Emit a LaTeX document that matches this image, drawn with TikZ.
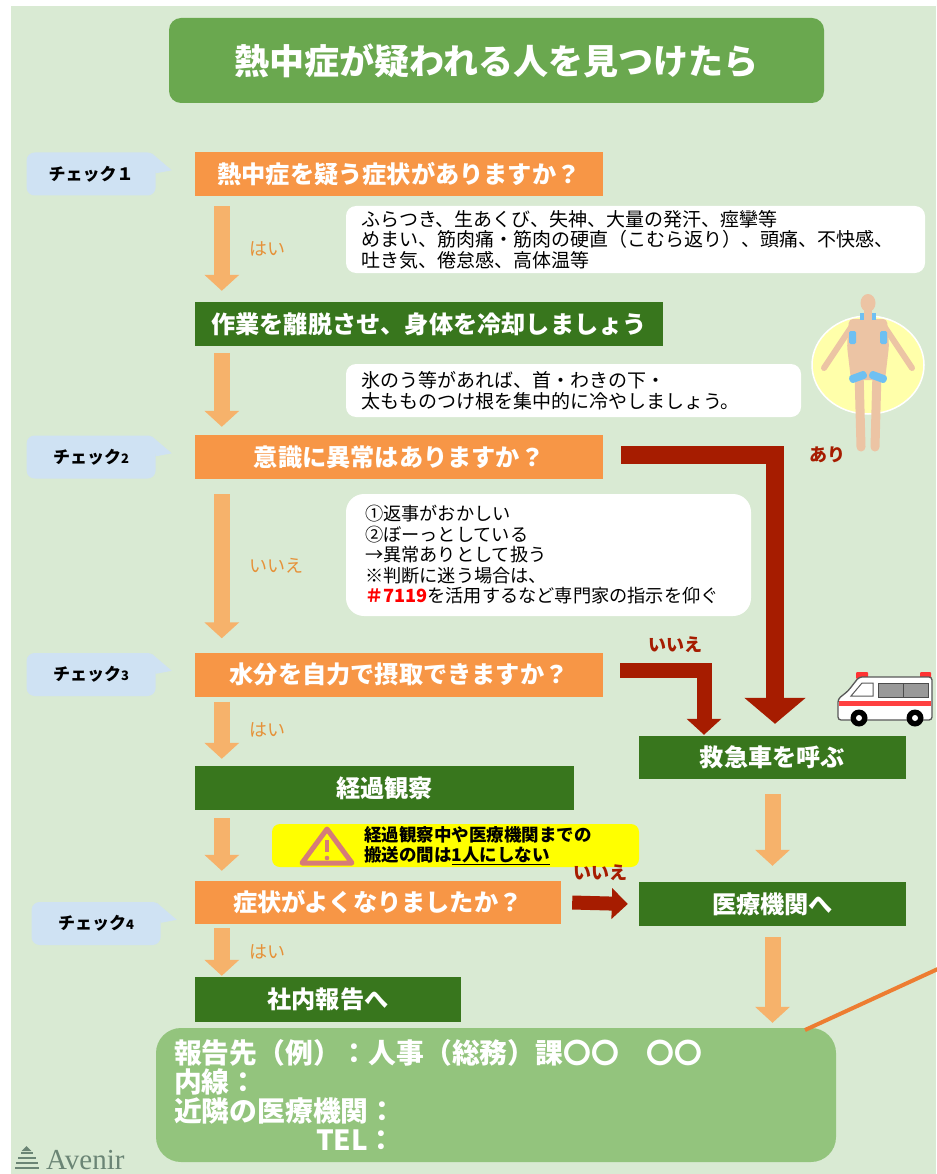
\documentclass[tikz,border=0pt]{standalone}
\usepackage{fontspec}
\setmainfont{Noto Sans CJK JP}
\newfontfamily\logofont{Liberation Serif}
\usetikzlibrary{positioning}
\usetikzlibrary{arrows.meta}
\definecolor{bggreen}{HTML}{D9EAD3}
\definecolor{titlegreen}{HTML}{6AA84F}
\definecolor{qorange}{HTML}{F79646}
\definecolor{actgreen}{HTML}{38761D}
\definecolor{flowarrow}{HTML}{F6B26B}
\definecolor{labelorange}{HTML}{E69138}
\definecolor{darkred}{HTML}{A61C00}
\definecolor{checkblue}{HTML}{CFE2F3}
\definecolor{contactgreen}{HTML}{93C47D}
\definecolor{warnyellow}{HTML}{FFFF00}
\definecolor{warnred}{HTML}{D67C78}
\definecolor{alertred}{HTML}{FF0000}
\definecolor{glowyellow}{HTML}{FFFFAA}
\definecolor{skin}{HTML}{ECC4A4}
\definecolor{icepack}{HTML}{6EC0F2}
\definecolor{accentorange}{HTML}{ED7D31}
\definecolor{logogray}{HTML}{6B8575}

\tikzset{
  box/.style={inner sep=0pt, minimum height=44pt, text=white,
    font=\bfseries\fontsize{24.2}{27}\selectfont},
  qbox/.style={box, fill=qorange},
  actbox/.style={box, fill=actgreen},
  titlebox/.style={fill=titlegreen, rounded corners=12pt, minimum width=655pt,
    minimum height=85pt, text=white, font=\bfseries\fontsize{35}{39}\selectfont},
  checkbox/.style={fill=checkblue, rounded corners=8pt, inner sep=0pt,
    minimum width=129pt, minimum height=43pt,
    font=\bfseries\fontsize{17}{20}\selectfont},
  notebox/.style={fill=white, rounded corners=10pt, inner xsep=15pt, inner ysep=0pt,
    align=left, font=\fontsize{19}{20.5}\selectfont},
  flow/.style={draw=flowarrow, line width=16pt, -{Triangle[width=34pt,length=16pt]}},
  nogo/.style={draw=darkred, line join=miter, line width=18pt,
    -{Triangle[width=60pt,length=26pt]}},
  yeslabel/.style={text=labelorange, inner sep=0pt, font=\fontsize{18}{20}\selectfont},
  nolabel/.style={text=darkred, inner sep=0pt, font=\bfseries\fontsize{18}{20}\selectfont}
}
\newcommand{\smalldigit}[1]{{\fontsize{13}{14}\selectfont #1}}

\begin{document}
\begin{tikzpicture}[x=1pt,y=-1pt]
  \useasboundingbox (0,0) rectangle (936,1174);
  % Background
  \fill[white] (0,0) rectangle (936,1174);
  \fill[bggreen] (11,6) rectangle (936,1174);

  % Title
  \node[titlebox] (title) at (496.5,60.5) {熱中症が疑われる人を見つけたら};

  % Questions and actions
  \node[qbox, minimum width=408pt] (q1) at (399,174) {熱中症を疑う症状がありますか？};
  \node[actbox, minimum width=468pt] (work) at (429,324) {作業を離脱させ、身体を冷却しましょう};
  \node[qbox, minimum width=408pt] (q2) at (399,457) {意識に異常はありますか？};
  \node[qbox, minimum width=408pt] (q3) at (399,674.5) {水分を自力で摂取できますか？};
  \node[actbox, minimum width=267pt, minimum height=43pt] (call) at (772.5,757.5) {救急車を呼ぶ};
  \node[actbox, minimum width=379pt] (obs) at (384.5,788) {経過観察};
  \node[qbox, minimum width=366pt, minimum height=43pt] (q4) at (378,902.5) {症状がよくなりましたか？};
  \node[actbox, minimum width=267pt] (hosp) at (772.5,904) {医療機関へ};
  \node[actbox, minimum width=266pt, minimum height=45pt] (report) at (328,999.5) {社内報告へ};

  % Check labels
  \node[checkbox, left=39pt of q1] (c1) {チェック１};
  \node[checkbox, left=39pt of q2] (c2) {チェック\smalldigit{2}};
  \node[checkbox, left=39pt of q3] (c3) {チェック\smalldigit{3}};
  \node[checkbox, left=34pt of q4, yshift=-21pt] (c4) {チェック\smalldigit{4}};
  \foreach \c in {c1,c2,c3,c4}
    \fill[checkblue] ([xshift=-4pt,yshift=-1pt]\c.north east) -- ++(20pt,-17pt)
      -- ([yshift=-21pt]\c.north east) -- cycle;

  % Notes
  \node[notebox, text width=549pt, minimum height=67pt] (sym) at (635.5,239.5)
    {ふらつき、生あくび、失神、大量の発汗、痙攣等\\
     めまい、筋肉痛・筋肉の硬直（こむら返り）、頭痛、不快感、\\
     吐き気、倦怠感、高体温等};
  \node[notebox, text width=425pt, minimum height=53pt] (ice) at (573.5,390.5)
    {氷のう等があれば、首・わきの下・\\
     太もものつけ根を集中的に冷やしましょう。};
  \node[notebox, rounded corners=18pt, inner xsep=19pt, text width=367pt,
    minimum height=122pt, font=\fontsize{18.2}{20.5}\selectfont] (sign) at (548.5,555)
    {①返事がおかしい\\
     ②ぼーっとしている\\
     →異常ありとして扱う\\
     ※判断に迷う場合は、\\
     {\color{alertred}\bfseries ＃7119}を活用するなど専門家の指示を仰ぐ};

  % Warning
  \node[fill=warnyellow, rounded corners=8pt, minimum width=367pt, minimum height=43pt]
    (warn) at (455.5,845.5) {};
  \draw[warnred, line width=5pt, line join=round] (327,829) -- (352,863) -- (302,863) -- cycle;
  \draw[warnred, line width=4pt] (327,840) -- (327,852);
  \fill[warnred] (327,858) circle (2.3);
  \node[anchor=west, inner sep=0pt, align=left,
    font=\bfseries\fontsize{17.5}{20}\selectfont] (warnmsg) at ([xshift=92pt]warn.west)
    {経過観察中や医療機関までの\\搬送の間は\underline{1人にしない}};

  % Contact
  \node[fill=contactgreen, rounded corners=25pt, inner xsep=18pt, inner ysep=0pt,
    text width=644pt, minimum height=134pt, align=left, text=white,
    font=\bfseries\fontsize{27.8}{29}\selectfont] (contact) at (496,1095)
    {報告先（例）：人事（総務）課〇〇　〇〇\\
     内線：\\
     近隣の医療機関：\\
     \hspace*{142pt}TEL：};

  % Main flow
  \draw[flow] ([xshift=27pt,yshift=-10pt]q1.south west)
    -- node[yeslabel, right=20pt] {はい} ([xshift=27pt,yshift=11pt]work.north west);
  \draw[flow] ([xshift=27pt,yshift=-7pt]work.south west)
    -- ([xshift=27pt,yshift=8pt]q2.north west);
  \draw[flow] ([xshift=27pt,yshift=-15pt]q2.south west)
    -- node[yeslabel, right=20pt] {いいえ} ([xshift=27pt,yshift=14pt]q3.north west);
  \draw[flow] ([xshift=27pt,yshift=-5pt]q3.south west)
    -- node[yeslabel, right=20pt] {はい} ([xshift=27pt,yshift=7pt]obs.north west);
  \draw[flow] ([xshift=27pt,yshift=-8pt]obs.south west)
    -- ([xshift=27pt,yshift=10pt]q4.north west);
  \draw[flow] ([xshift=27pt,yshift=-4pt]q4.south west)
    -- node[yeslabel, right=20pt] {はい} ([xshift=27pt,yshift=1pt]report.north west);
  \draw[flow] ([yshift=-15pt]call.south) -- ([yshift=16pt]hosp.north);
  \draw[flow] ([yshift=-11pt]hosp.south) -- ([yshift=5pt]contact.north -| hosp.south);

  % Emergency branches
  \draw[nogo] ([xshift=18pt,yshift=2.5pt]q2.east)
    -| node[nolabel, pos=0.5, right=25pt] {あり} ([xshift=2.5pt,yshift=12pt]call.north);
  \draw[nogo, line width=15pt, -{Triangle[width=34pt,length=16pt]}]
    ([xshift=17pt,yshift=4.5pt]q3.east)
    -| node[nolabel, pos=0.33, above=10pt] {いいえ} ([xshift=-68.5pt,yshift=1pt]call.north);
  \draw[nogo, line width=14pt, -{Triangle[width=30pt,length=16pt]}]
    ([xshift=11pt]q4.east) -- node[nolabel, above=15.5pt] {いいえ} ([xshift=-11pt]hosp.west);

  % Cooling figure
  \fill[glowyellow, draw=white, line width=1.5pt] (868,365) ellipse [x radius=56, y radius=49];
  \draw[skin, line width=6pt, line cap=round] (852,326) -- (824,368);
  \draw[skin, line width=6pt, line cap=round] (884,326) -- (912,368);
  \draw[skin, line width=9pt, line cap=round] (859,372) -- (861,447);
  \draw[skin, line width=9pt, line cap=round] (877,372) -- (875,447);
  \fill[skin, rounded corners=4pt] (849,319) -- (887,319) -- (889,346) -- (885,380)
    -- (851,380) -- (847,346) -- cycle;
  \fill[skin] (864,306) rectangle (872,321);
  \fill[skin] (868,303) ellipse [x radius=7.5, y radius=9];
  \fill[icepack] (860,313) rectangle (864,320);
  \fill[icepack] (872,313) rectangle (876,320);
  \fill[icepack, rounded corners=1.5pt] (849,331) rectangle (856,344);
  \fill[icepack, rounded corners=1.5pt] (880,331) rectangle (887,344);
  \fill[icepack, rounded corners=3pt, rotate around={20:(858,377)}] (849,373) rectangle (867,381);
  \fill[icepack, rounded corners=3pt, rotate around={-20:(878,377)}] (869,373) rectangle (887,381);

  % Ambulance
  \fill[red!80!white, rounded corners=1pt] (856,672) rectangle (868,679);
  \fill[red!80!white, rounded corners=1pt] (920,672) rectangle (931,679);
  \filldraw[fill=white, draw=black!65, line width=1.3pt, rounded corners=3pt]
    (838,720) -- (838,699) -- (848,691) -- (859,677) -- (932,677) -- (932,720) -- cycle;
  \fill[red!75!white] (838.7,701) rectangle (931.3,706);
  \filldraw[fill=black!40, draw=black!70, line width=0.8pt] (878,683) rectangle (928,697);
  \draw[black!70, line width=1pt] (903,683) -- (903,697);
  \draw[black!65, line width=1pt] (851,696) -- (862,683) -- (873,683) -- (873,696) -- cycle;
  \fill[black] (859,718) circle (8.5);
  \fill[black] (915,718) circle (8.5);
  \fill[white] (859,718) circle (3);
  \fill[white] (915,718) circle (3);

  % Link line on the right
  \draw[accentorange, line width=4pt] (805,1030) -- (940,968);

  % Logo
  \foreach \y/\w in {1169/12, 1164/11, 1159/9, 1154/6}
    \fill[logogray] (26.5-\w,\y) rectangle (26.5+\w,\y-2.5);
  \fill[logogray] (21.5,1151) -- (26.5,1146) -- (31.5,1151) -- cycle;
  \node[anchor=base west, inner sep=0pt, text=logogray,
    font=\logofont\fontsize{29}{29}\selectfont] (logo) at (46,1169) {Avenir};
\end{tikzpicture}
\end{document}
